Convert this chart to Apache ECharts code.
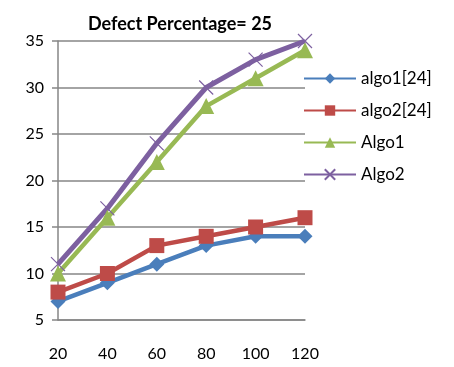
<!DOCTYPE html>
<html><head><meta charset="utf-8">
<script src="https://cdn.jsdelivr.net/npm/echarts@6/dist/echarts.min.js"></script>
<style>html,body{margin:0;padding:0;background:#fff}#c{width:454px;height:367px}</style>
</head><body><div id="c"></div>
<script>
var categories = ['20','40','60','80','100','120'];
var algo1_24 = [7, 9, 11, 13, 14, 14];
var algo2_24 = [8, 10, 13, 14, 15, 16];
var Algo1 = [10, 16, 22, 28, 31, 34];
var Algo2 = [11, 17, 24, 30, 33, 35];
var FONT = 'Lato, "Open Sans", sans-serif';
var crossPath = 'path://M0,0 L10,10 M10,0 L0,10';
var chart = echarts.init(document.getElementById('c'));
function s(name, data, color, symbol, size, extra) {
  var o = {name: name, type: 'line', data: data, symbol: symbol, symbolSize: size,
    lineStyle: {color: color, width: 4.5}, itemStyle: {color: color},
    animation: false, z: 2};
  if (extra) for (var k in extra) o[k] = extra[k];
  return o;
}
chart.setOption({
  animation: false,
  title: {text: 'Defect Percentage= 25', left: 175, top: 10, textAlign: 'center',
    textStyle: {fontFamily: FONT, fontWeight: 'bold', fontSize: 18, color: '#000'}},
  legend: {orient: 'vertical', left: 303, top: 70, padding: 0, itemGap: 15, itemWidth: 52, itemHeight: 13,
    textStyle: {fontFamily: FONT, fontSize: 17, color: '#000'},
    data: ['algo1[24]', 'algo2[24]', 'Algo1', 'Algo2']},
  grid: {left: 58, right: 149, top: 41, bottom: 47},
  xAxis: {type: 'category', data: categories, boundaryGap: false,
    axisLine: {lineStyle: {color: '#868686', width: 1.5}},
    axisTick: {show: false},
    axisLabel: {fontFamily: FONT, fontSize: 16, color: '#000', margin: 26}},
  yAxis: {type: 'value', min: 5, max: 35, interval: 5,
    axisLine: {show: true, lineStyle: {color: '#868686', width: 1.5}},
    axisTick: {show: true, length: 6, lineStyle: {color: '#868686', width: 1.5}},
    splitLine: {lineStyle: {color: '#868686', width: 1.5}},
    axisLabel: {fontFamily: FONT, fontSize: 16, color: '#000', margin: 14}},
  series: [
    s('algo1[24]', algo1_24, '#4A7EBB', 'diamond', 15),
    s('algo2[24]', algo2_24, '#BE4B48', 'rect', 15),
    s('Algo1', Algo1, '#98B954', 'triangle', 16),
    s('Algo2', Algo2, '#7D60A0', crossPath, 14, {lineStyle: {color: '#7D60A0', width: 5}, itemStyle: {color: '#7D60A0', borderColor: '#7D60A0', borderWidth: 1.2}})
  ]
});
</script></body></html>
